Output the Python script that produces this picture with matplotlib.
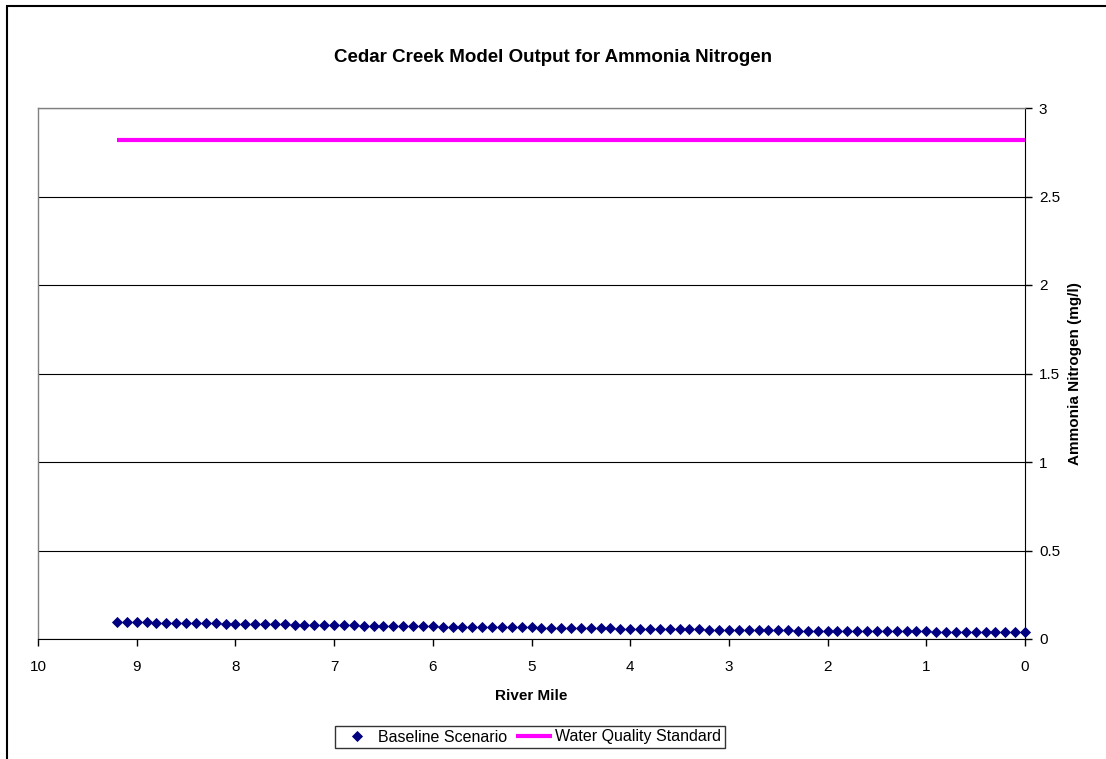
import matplotlib.pyplot as plt
from matplotlib.patches import Rectangle

plt.rcParams['font.family'] = ['Liberation Sans', 'DejaVu Sans']

# river mile from 9.2 down to 0 in steps of 0.1
miles = [round(9.2 - 0.1 * i, 1) for i in range(93)]
baseline = [
    0.096, 0.095, 0.094, 0.094, 0.093, 0.092, 0.091, 0.090, 0.090, 0.089,
    0.088, 0.087, 0.086,
    0.085, 0.085, 0.084, 0.083, 0.082, 0.081, 0.081, 0.080, 0.079, 0.078,
    0.077, 0.077, 0.076, 0.075, 0.075, 0.074, 0.073, 0.073, 0.072, 0.071,
    0.070, 0.070, 0.069, 0.069, 0.068, 0.067, 0.067, 0.066, 0.066, 0.065,
    0.064, 0.063, 0.063, 0.062, 0.062, 0.061, 0.060, 0.060, 0.059, 0.058,
    0.057, 0.057, 0.056, 0.056, 0.055, 0.054, 0.054, 0.053, 0.053, 0.052,
    0.051, 0.051, 0.050, 0.050, 0.049, 0.049, 0.048, 0.048, 0.047, 0.047,
    0.046, 0.046, 0.046, 0.045, 0.045, 0.044, 0.044, 0.044, 0.043, 0.043,
    0.042, 0.042, 0.042, 0.041, 0.041, 0.040, 0.040, 0.040, 0.039, 0.039,
]
standard_miles = [9.2, 0.0]
standard = [2.82, 2.82]

W, H = 1106, 759
fig = plt.figure(figsize=(W / 100, H / 100), dpi=100)
# outer chart border (right and bottom edges fall outside the picture)
fig.patches.append(Rectangle((6.5 / W, -0.05), 1.1, (H - 6) / H + 0.05,
                             transform=fig.transFigure, fill=False, edgecolor='black', lw=1.5))

ax = fig.add_axes([38 / W, (H - 639) / H, (1025 - 38) / W, (639 - 108) / H])
ax.plot(miles, baseline, linestyle='none', marker='D', markersize=4.6, markeredgewidth=0.6,
        color='#000080', label='Baseline Scenario', clip_on=False, zorder=3)
ax.plot(standard_miles, standard, color='#FF00FF', lw=3,
        label='Water Quality Standard', solid_capstyle='butt', zorder=3)

ax.set_xlim(10, 0)
ax.set_ylim(0, 3)
ax.set_xticks(range(10, -1, -1))
ax.set_yticks([0, 0.5, 1, 1.5, 2, 2.5, 3])
ax.set_yticklabels(['0', '0.5', '1', '1.5', '2', '2.5', '3'])
ax.yaxis.tick_right()
ax.yaxis.set_label_position('right')
ax.tick_params(axis='both', labelsize=11, length=5, width=1, direction='out')
ax.tick_params(axis='x', pad=10)
ax.tick_params(axis='y', pad=5)
ax.grid(axis='y', color='black', lw=0.8)
ax.set_axisbelow(True)

for s in ['left', 'top']:
    ax.spines[s].set_color('#808080')
    ax.spines[s].set_linewidth(1)
ax.spines['right'].set_color('black')
ax.spines['bottom'].set_color('black')

ax.set_xlabel('River Mile', fontsize=11, fontweight='bold', labelpad=11)
ax.set_ylabel('Ammonia Nitrogen (mg/l)', fontsize=11, fontweight='bold', labelpad=6)
fig.text(0.5, (H - 57) / H, 'Cedar Creek Model Output for Ammonia Nitrogen',
         ha='center', va='center', fontsize=13.5, fontweight='bold')

leg = fig.legend(loc='center', bbox_to_anchor=(530 / W, (H - 737) / H), ncol=2,
                 fontsize=11.5, frameon=True, fancybox=False, edgecolor='black',
                 handlelength=2.3, handletextpad=0.2, columnspacing=0.5,
                 borderpad=0.25, markerscale=1.0)
leg.get_frame().set_linewidth(1)

fig.savefig('out.png', dpi=100)
